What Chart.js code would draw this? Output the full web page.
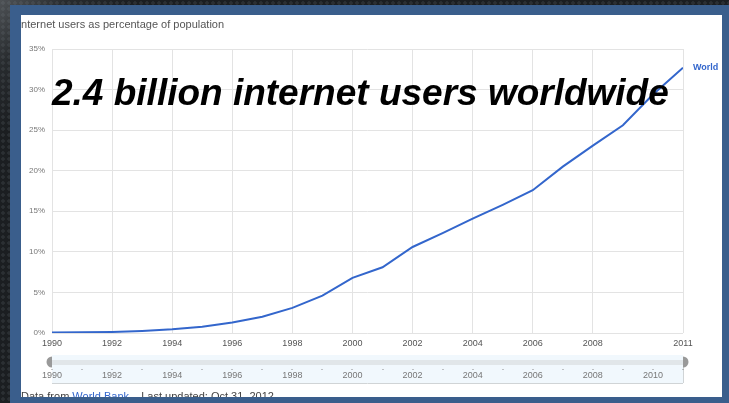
<!DOCTYPE html>
<html lang="en">
<head>
    <meta charset="UTF-8">
    <title>Internet users as percentage of population</title>
    <script src="https://cdn.jsdelivr.net/npm/chart.js"></script>
    <style>
        body {
            margin: 0;
            width: 729px;
            height: 403px;
            overflow: hidden;
            background-color: #1b1e21;
            background-image:
                linear-gradient(135deg, rgba(140,145,150,0.45) 0%, rgba(90,95,100,0.2) 6%, rgba(0,0,0,0) 12%),
                radial-gradient(circle at 3px 3px, #2b2f33 1.5px, rgba(0,0,0,0) 2px);
            background-size: 729px 403px, 6px 6px;
            font-family: 'Liberation Sans', Arial, sans-serif;
        }

        .frame {
            position: absolute;
            left: 10px;
            top: 5px;
            width: 730px;
            height: 410px;
            background-color: #3a5e8c;
        }

        .panel {
            position: absolute;
            left: 21px;
            top: 15px;
            width: 701px;
            height: 382px;
            background-color: #fff;
            overflow: hidden;
        }
    </style>
</head>
<body>
    <div class="frame"></div>
    <div class="panel">
        <canvas id="usersChart"></canvas>
    </div>

    <script>
        const years = [1990, 1991, 1992, 1993, 1994, 1995, 1996, 1997, 1998, 1999, 2000,
                       2001, 2002, 2003, 2004, 2005, 2006, 2007, 2008, 2009, 2010, 2011];
        const internetPct = [0.05, 0.08, 0.13, 0.25, 0.45, 0.78, 1.3, 2.0, 3.1, 4.6, 6.8,
                             8.1, 10.6, 12.3, 14.1, 15.8, 17.6, 20.5, 23.1, 25.6, 29.4, 32.7];
        const xTickYears = [1990, 1992, 1994, 1996, 1998, 2000, 2002, 2004, 2006, 2008, 2011];
        const timelineYears = [1990, 1992, 1994, 1996, 1998, 2000, 2002, 2004, 2006, 2008, 2010];
        const seriesName = 'World';
        const chartTitle = 'Internet users as percentage of population';
        const headline = '2.4 billion internet users worldwide';

        const lineColor = '#3366cc';

        // title, headline, series label, time slider and source line
        const overlay = {
            id: 'overlay',
            afterDraw(chart) {
                const ctx = chart.ctx;
                const area = chart.chartArea;
                const x = chart.scales.x;
                const meta = chart.getDatasetMeta(0);
                const last = meta.data[meta.data.length - 1];
                ctx.save();

                ctx.fillStyle = '#555';
                ctx.font = '11px "Liberation Sans", Arial, sans-serif';
                ctx.textAlign = 'left';
                ctx.textBaseline = 'alphabetic';
                ctx.fillText(chartTitle, -3, 13);

                ctx.fillStyle = lineColor;
                ctx.font = 'bold 9px "Liberation Sans", Arial, sans-serif';
                ctx.textBaseline = 'middle';
                ctx.fillText(seriesName, last.x + 10, last.y);

                ctx.fillStyle = '#000';
                ctx.font = 'italic bold 37px "Liberation Sans", Arial, sans-serif';
                ctx.textBaseline = 'alphabetic';
                ctx.fillText(headline, area.left, 90);

                // time slider
                const top = area.bottom + 22, bottom = area.bottom + 50;
                ctx.fillStyle = '#f1f8fd';
                ctx.fillRect(area.left, top, area.right - area.left, bottom - top);
                ctx.fillStyle = '#e1e6e9';
                ctx.fillRect(area.left, top + 5, area.right - area.left, 5);
                ctx.strokeStyle = '#d0d4d6';
                ctx.lineWidth = 1;
                ctx.beginPath();
                ctx.moveTo(area.left, bottom + 0.5);
                ctx.lineTo(area.right, bottom + 0.5);
                ctx.moveTo(area.right + 0.5, top + 10);
                ctx.lineTo(area.right + 0.5, bottom);
                ctx.stroke();

                ctx.fillStyle = '#8a8a8a';
                for (let i = 0; i < years.length; i++) {
                    const px = x.getPixelForValue(years[i]);
                    ctx.fillRect(Math.round(px) - 0.5, top + 14, 1, 1);
                }
                ctx.fillStyle = '#777';
                ctx.font = '9px "Liberation Sans", Arial, sans-serif';
                ctx.textAlign = 'center';
                ctx.textBaseline = 'middle';
                timelineYears.forEach(y => ctx.fillText(String(y), x.getPixelForValue(y), top + 21));

                ctx.fillStyle = '#999';
                ctx.beginPath();
                ctx.arc(area.left, top + 7, 5.5, Math.PI / 2, Math.PI * 1.5);
                ctx.fill();
                ctx.beginPath();
                ctx.arc(area.right, top + 7, 5.5, -Math.PI / 2, Math.PI / 2);
                ctx.fill();

                // source line, partly hidden by the frame
                ctx.textAlign = 'left';
                ctx.textBaseline = 'alphabetic';
                ctx.font = '11px "Liberation Sans", Arial, sans-serif';
                let tx = 0;
                const parts = [['Data from ', '#444'], ['World Bank', '#3366cc'], ['    Last updated: Oct 31, 2012', '#444']];
                parts.forEach(p => {
                    ctx.fillStyle = p[1];
                    ctx.fillText(p[0], tx, 385);
                    tx += ctx.measureText(p[0]).width;
                });

                ctx.restore();
            }
        };

        new Chart(document.getElementById('usersChart'), {
            type: 'line',
            data: {
                labels: years,
                datasets: [{
                    label: seriesName,
                    data: years.map((y, i) => ({ x: y, y: internetPct[i] })),
                    borderColor: lineColor,
                    borderWidth: 2,
                    pointRadius: 0,
                    tension: 0,
                    fill: false
                }]
            },
            options: {
                responsive: true,
                maintainAspectRatio: false,
                animation: false,
                layout: { padding: { left: 0, top: 34, right: 39, bottom: 42 } },
                plugins: {
                    legend: { display: false },
                    tooltip: { enabled: false }
                },
                scales: {
                    x: {
                        type: 'linear',
                        min: 1990,
                        max: 2011,
                        afterBuildTicks: s => { s.ticks = xTickYears.map(v => ({ value: v })); },
                        afterFit: s => { s.height = 22; },
                        border: { display: false },
                        grid: { color: '#e3e3e3', drawTicks: false },
                        ticks: {
                            padding: 5,
                            maxRotation: 0,
                            autoSkip: false,
                            color: '#555',
                            font: { size: 9, family: '"Liberation Sans", Arial' },
                            callback: v => String(v)
                        }
                    },
                    y: {
                        min: 0,
                        max: 35,
                        afterFit: s => { s.width = 31; },
                        border: { display: false },
                        grid: { color: '#e3e3e3', drawTicks: false },
                        ticks: {
                            stepSize: 5,
                            padding: 7,
                            color: '#777',
                            font: { size: 8, family: '"Liberation Sans", Arial' },
                            callback: v => v + '%'
                        }
                    }
                }
            },
            plugins: [overlay]
        });
    </script>
</body>
</html>
